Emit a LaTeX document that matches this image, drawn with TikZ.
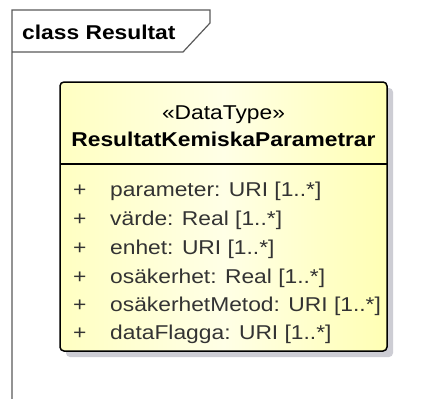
\documentclass[tikz,border=0pt]{standalone}
\usepackage{fontspec}
\setmainfont{Liberation Sans}[FakeStretch=1.14]
\usetikzlibrary{shadows}
\definecolor{framegray}{HTML}{5A5A5A}
\definecolor{attrgray}{HTML}{333333}
\definecolor{shadowgray}{HTML}{CDCDD4}
\definecolor{yelL}{HTML}{FFFFC2}
\definecolor{yelM}{HTML}{FFFFE6}
\definecolor{yelR}{HTML}{FFFFB4}
\tikzset{
  frameline/.style={draw=framegray, line width=1.2pt},
  classbox/.style={draw=black, line width=1.5pt, rounded corners=4pt,
    left color=yelL, right color=yelR, middle color=yelM,
    drop shadow={shadow xshift=6pt, shadow yshift=-6pt, fill=shadowgray, opacity=1}},
  txt/.style={inner sep=0pt, font=\fontsize{20}{24}\selectfont},
  attr/.style={txt, anchor=base west, text=attrgray},
}
\begin{document}
\begin{tikzpicture}[x=1pt,y=-1pt]
\useasboundingbox[fill=white] (0,0) rectangle (424,399);
% frame
\coordinate (fTL) at (12,10);
\coordinate (fTR) at (210,10);
\coordinate (fK) at (210,23);
\coordinate (fD) at (183,52);
\coordinate (fL) at (12,52);
\coordinate (fB) at (12,399);
\draw[frameline] (fB) -- (fTL) -- (fTR) -- (fK) -- (fD) -- (fL);
\node[txt, anchor=base west, font=\fontsize{20}{24}\selectfont\bfseries] (title) at (22,39) {class Resultat};
% class box
\node[classbox, minimum width=327pt, minimum height=269pt, inner sep=0pt] (box) at (223.5,216.5) {};
\coordinate (sepL) at (60,164);
\coordinate (sepR) at (387,164);
\draw[draw=black, line width=1.5pt] (sepL) -- (sepR);
\node[txt, anchor=base] (stereo) at (223.5,119) {«DataType»};
\node[txt, anchor=base, font=\fontsize{20}{24}\selectfont\bfseries] (cname) at (223.5,146) {ResultatKemiskaParametrar};
\foreach \y/\t [count=\i] in {196/{parameter: URI [1..*]},225/{värde: Real [1..*]},254/{enhet: URI [1..*]},283/{osäkerhet: Real [1..*]},311/{osäkerhetMetod: URI [1..*]},339/{dataFlagga: URI [1..*]}}{
  \node[attr] (plus\i) at (73,\y) {+};
  \node[attr] (attr\i) at (110,\y) {\t};
}
\end{tikzpicture}
\end{document}
